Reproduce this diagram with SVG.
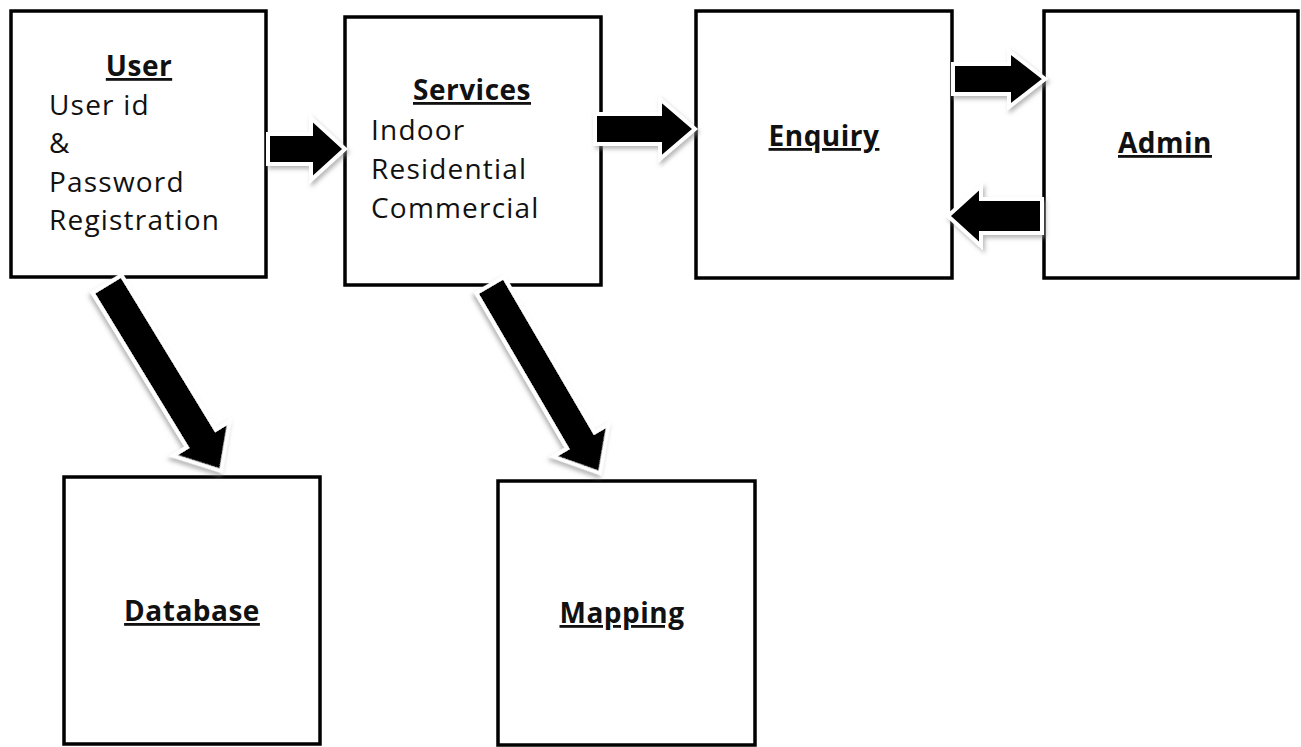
<svg xmlns="http://www.w3.org/2000/svg" width="1301" height="747" viewBox="0 0 1301 747">
  <defs>
    <filter id="sh" x="-20%" y="-20%" width="140%" height="140%">
      <feDropShadow dx="2" dy="3" stdDeviation="2" flood-color="#888" flood-opacity="0.6"/>
    </filter>
    <style>
      .box { fill: #fff; stroke: #000; stroke-width: 3.5; }
      .t { font-family: "Open Sans", "Liberation Sans", sans-serif; font-size: 28px; fill: #111; letter-spacing: 1.2px; }
      .h { font-family: "Open Sans", "Liberation Sans", sans-serif; font-size: 28px; font-weight: bold; fill: #111; text-anchor: middle; text-decoration: underline; letter-spacing: 0.5px; }
      .arr { fill: #000; stroke: #fff; stroke-width: 4; stroke-linejoin: miter; filter: url(#sh); }
    </style>
  </defs>
  <rect width="1301" height="747" fill="#fff"/>

  <g id="user">
    <rect class="box" x="11" y="11" width="255" height="266"/>
    <text class="h" x="139" y="76">User</text>
    <text class="t" x="49" y="115">User id</text>
    <text class="t" x="49" y="153">&amp;</text>
    <text class="t" x="49" y="192">Password</text>
    <text class="t" x="49" y="230">Registration</text>
  </g>

  <g id="services">
    <rect class="box" x="345" y="17" width="256" height="268"/>
    <text class="h" x="472" y="100">Services</text>
    <text class="t" x="371" y="140">Indoor</text>
    <text class="t" x="371" y="179">Residential</text>
    <text class="t" x="371" y="218">Commercial</text>
  </g>

  <g id="enquiry">
    <rect class="box" x="696" y="11" width="256" height="267"/>
    <text class="h" x="824" y="146">Enquiry</text>
  </g>

  <g id="admin">
    <rect class="box" x="1044" y="11" width="254" height="267"/>
    <text class="h" x="1165" y="153">Admin</text>
  </g>

  <g id="database">
    <rect class="box" x="64" y="477" width="256" height="267"/>
    <text class="h" x="192" y="621">Database</text>
  </g>

  <g id="mapping">
    <rect class="box" x="498" y="481" width="257" height="264"/>
    <text class="h" x="622" y="623">Mapping</text>
  </g>

  <g id="connectors">
    <!-- User -> Services -->
    <polygon class="arr" points="268,134 311,134 311,118 345,149 311,180 311,164 268,164"/>
    <!-- Services -> Enquiry -->
    <polygon class="arr" points="595,114 660,114 660,99 695,129 660,159 660,144 595,144"/>
    <!-- Enquiry -> Admin -->
    <polygon class="arr" points="953,64 1009,64 1009,51 1045,79 1009,107 1009,94 953,94"/>
    <!-- Admin -> Enquiry -->
    <polygon class="arr" points="1042,199 981,199 981,186 948,216 981,246 981,233 1042,233"/>
    <!-- User -> Database -->
    <polygon class="arr" transform="translate(107,284) rotate(58.6)" points="0,-17 181,-17 181,-33 219,0 181,33 181,17 0,17"/>
    <!-- Services -> Mapping -->
    <polygon class="arr" transform="translate(490,285) rotate(59.7)" points="0,-16 180,-16 180,-32 218,0 180,32 180,16 0,16"/>
  </g>
</svg>
